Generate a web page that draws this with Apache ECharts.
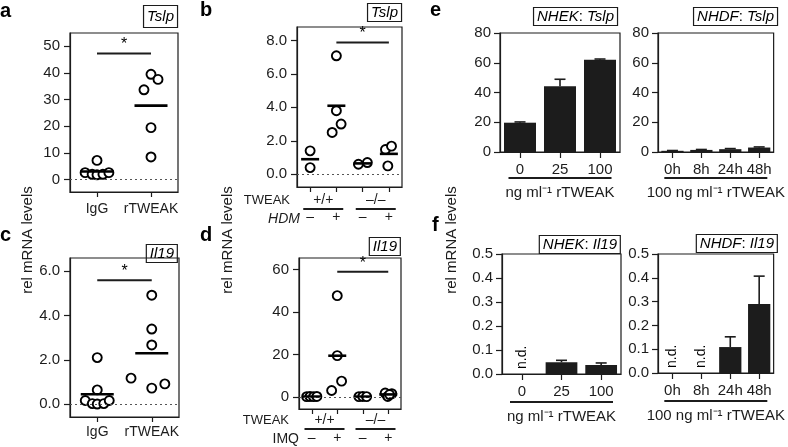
<!DOCTYPE html>
<html>
<head>
<meta charset="utf-8">
<script src="https://cdn.jsdelivr.net/npm/echarts@6/dist/echarts.min.js"></script>
<style>html,body{margin:0;padding:0;background:#fff;}#c{width:788px;height:447px;}</style>
</head>
<body>
<div id="c"></div>
<script>
// ---------- data ----------
// a: Tslp, IgG vs rTWEAK
const aGroups = ['IgG', 'rTWEAK'];
const aTslp = [[7.2, 2.6, 2.0, 1.8, 2.0, 2.6], [39.5, 37.6, 33.7, 19.5, 8.5]];
const aJitter = [[0, -0.22, -0.09, 0, 0.11, 0.22], [0, 0.13, -0.13, 0, 0]];
const aYTicks = [0, 10, 20, 30, 40, 50];
const aSig = [0, 1, 47.3];
// c: Il19, IgG vs rTWEAK
const cGroups = ['IgG', 'rTWEAK'];
const cIl19 = [[2.1, 0.64, 0.16, 0.02, 0.0, 0.02, 0.16], [4.92, 3.39, 2.67, 1.17, 0.72, 0.91]];
const cJitter = [[0, 0, -0.22, -0.09, 0, 0.12, 0.22], [0, 0, 0, -0.38, 0, 0.24]];
const cYTicks = [0, 2, 4, 6];
const cSig = [0, 1, 5.59];
// b: Tslp, TWEAK +/+ and -/-, HDM - / +
const bHdm = ['–', '+', '–', '+'];
const bTweak = ['+/+', '–/–'];
const bTslp = [[1.4, 0.4], [7.08, 3.8, 3.0, 2.5], [0.6, 0.7], [1.48, 1.68, 0.5]];
const bJitter = [[0, 0], [0, 0, 0.18, -0.16], [-0.16, 0.18], [-0.13, 0.1, -0.04]];
const bYTicks = [0, 2, 4, 6, 8];
const bSig = [1, 3, 7.88];
// d: Il19, TWEAK +/+ and -/-, IMQ - / +
const dImq = ['–', '+', '–', '+'];
const dTweak = ['+/+', '–/–'];
const dIl19 = [[0.2, 0.3, 0.2, 0.3], [47.7, 19.5, 7.5, 3.1], [0.2, 0.3, 0.2], [1.9, 1.6, 0.3, 1.2]];
const dJitter = [[-0.2, -0.07, 0.07, 0.2], [0, 0, 0.17, -0.22], [-0.15, 0, 0.15], [-0.12, 0.14, -0.02, 0.05]];
const dYTicks = [0, 20, 40, 60];
const dSig = [1, 3, 58.9];
// e: Tslp in NHEK (dose) and NHDF (time)
const eDoses = ['0', '25', '100'];
const eNhekTslp = [19.7, 44.2, 62.1];
const eNhekErr = [0.5, 4.7, 0.4];
const eTimes = ['0h', '8h', '24h', '48h'];
const eNhdfTslp = [0.8, 1.4, 1.9, 3.0];
const eNhdfErr = [0.2, 0.3, 0.4, 0.4];
// f: Il19 in NHEK (dose) and NHDF (time); null = n.d.
const fDoses = ['0', '25', '100'];
const fNhekIl19 = [null, 0.049, 0.038];
const fNhekErr = [null, 0.008, 0.008];
const fTimes = ['0h', '8h', '24h', '48h'];
const fNhdfIl19 = [null, null, 0.109, 0.29];
const fNhdfErr = [null, null, 0.043, 0.117];
const doseCaption = 'ng ml⁻¹ rTWEAK';
const timeCaption = '100 ng ml⁻¹ rTWEAK';

// ---------- builders ----------
const FONT = '"Liberation Sans", Arial, Helvetica, sans-serif';
const INK = '#1c1c1c';
const grids = [], xAxes = [], yAxes = [], series = [], titles = [], graphics = [];

function range(n) { return Array.from({length: n}, (_, i) => i); }
function mean(a) { return a.reduce((s, v) => s + v, 0) / a.length; }

function addGrid(r) {
  grids.push({left: r[0], top: r[1], width: r[2], height: r[3], show: true,
    borderColor: INK, borderWidth: 1.2, backgroundColor: 'transparent'});
  return grids.length - 1;
}
const axisLine = {show: true, onZero: false, lineStyle: {color: INK, width: 1.2}};
const tickStyle = {color: INK, width: 1.2};
const HIDDEN = 'rgba(0,0,0,0)';

function scatterPanel(o) {
  const g = addGrid(o.rect);
  const n = o.values.length;
  const xi = xAxes.length;
  xAxes.push({gridIndex: g, type: 'value', min: -0.5, max: n - 0.5, position: 'bottom',
    axisLine: axisLine, splitLine: {show: false},
    axisTick: {show: true, customValues: range(n), length: 5, lineStyle: tickStyle},
    axisLabel: {show: true, customValues: range(n), formatter: v => o.cats[Math.round(v)],
      margin: o.labelMargin, fontSize: 14, color: INK, fontFamily: FONT}});
  if (o.groups) {
    xAxes.push({gridIndex: g, type: 'category', data: o.groups, position: 'bottom', boundaryGap: true,
      axisLine: {show: false}, axisTick: {show: false}, splitLine: {show: false},
      axisLabel: {margin: o.groupMargin, interval: 0, formatter: v => '{t|' + v + '}\n{u| }',
        rich: {t: {fontSize: 14, lineHeight: 16, color: INK, fontFamily: FONT},
               u: {width: 40, height: 2, lineHeight: 2, backgroundColor: INK, fontSize: 1}}}});
  }
  const yi = yAxes.length;
  yAxes.push({gridIndex: g, type: 'value', min: o.yMin, max: o.yMax,
    axisLine: axisLine, splitLine: {show: false},
    axisTick: {show: true, customValues: o.ticks, length: 6, lineStyle: tickStyle},
    axisLabel: {show: true, customValues: o.ticks, formatter: v => v.toFixed(o.dec),
      margin: 10, fontSize: 15, color: INK, fontFamily: FONT}});
  const pts = [];
  o.values.forEach((arr, gi) => arr.forEach((v, k) => pts.push([gi + o.jitter[gi][k], v])));
  // significance bar with zero reference line
  series.push({type: 'line', xAxisIndex: xi, yAxisIndex: yi, z: 2, silent: true,
    data: [[o.sig[0], o.sig[2]], [o.sig[1], o.sig[2]]], symbol: 'none',
    lineStyle: {color: INK, width: 2},
    markLine: {silent: true, symbol: 'none', label: {show: false},
      lineStyle: {type: [2, 3], color: '#555', width: 1, opacity: 1}, data: [{yAxis: 0}]}});
  series.push({type: 'scatter', xAxisIndex: xi, yAxisIndex: yi, z: 2, silent: true,
    data: [[(o.sig[0] + o.sig[1]) / 2, o.sig[2]]], symbolSize: 1, itemStyle: {color: HIDDEN, opacity: 1},
    label: {show: true, formatter: '*', position: 'top', distance: 0, fontSize: 16, color: '#000',
      opacity: 1, fontFamily: FONT}});
  series.push({type: 'scatter', xAxisIndex: xi, yAxisIndex: yi, z: 3, silent: true,
    data: pts, symbol: 'circle', symbolSize: 9,
    itemStyle: {color: '#fff', borderColor: '#000', borderWidth: 1.9, opacity: 1}});
  series.push({type: 'scatter', xAxisIndex: xi, yAxisIndex: yi, z: 4, silent: true,
    data: o.values.map((arr, gi) => [gi, mean(arr)]), symbol: 'rect', symbolSize: [o.meanW, 2.6],
    itemStyle: {color: '#000', opacity: 1}});
}

function errBar(params, api) {
  const x = api.value(0), v = api.value(1), e = api.value(2);
  const p0 = api.coord([x, v]);
  const p1 = api.coord([x, v + e]);
  const hw = 5.5;
  const st = {stroke: INK, lineWidth: 1.6};
  return {type: 'group', children: [
    {type: 'line', shape: {x1: p0[0], y1: p0[1], x2: p1[0], y2: p1[1]}, style: st},
    {type: 'line', shape: {x1: p1[0] - hw, y1: p1[1], x2: p1[0] + hw, y2: p1[1]}, style: st}]};
}

const ndLabel = {show: true, formatter: 'n.d.', position: 'top', distance: 5, rotate: 90,
  align: 'left', verticalAlign: 'middle', fontSize: 14, color: '#000', fontFamily: FONT};

function barPanel(o) {
  const g = addGrid(o.rect);
  const xi = xAxes.length;
  xAxes.push({gridIndex: g, type: 'category', data: o.cats, boundaryGap: true, position: 'bottom',
    axisLine: axisLine, splitLine: {show: false},
    axisTick: {show: true, alignWithLabel: true, length: 6, lineStyle: tickStyle},
    axisLabel: {interval: 0, margin: 10, fontSize: 15, color: INK, fontFamily: FONT}});
  xAxes.push({gridIndex: g, type: 'category', data: [o.caption], position: 'bottom', boundaryGap: true,
    axisLine: {show: false}, axisTick: {show: false}, splitLine: {show: false},
    axisLabel: {margin: o.capMargin, interval: 0, formatter: v => '{u| }\n{t|' + v + '}',
      rich: {u: {width: 103, height: 2, lineHeight: 2, backgroundColor: INK, fontSize: 1},
             t: {fontSize: 15, lineHeight: 28, color: INK, fontFamily: FONT}}}});
  const yi = yAxes.length;
  yAxes.push({gridIndex: g, type: 'value', min: 0, max: o.yMax, interval: o.step,
    axisLine: axisLine, splitLine: {show: false},
    axisTick: {show: true, length: 6, lineStyle: tickStyle},
    axisLabel: {formatter: v => v.toFixed(o.dec), margin: 9, fontSize: 15, color: INK, fontFamily: FONT}});
  // not-detected samples are drawn as zero-height bars carrying an "n.d." label
  series.push({type: 'bar', xAxisIndex: xi, yAxisIndex: yi, barWidth: o.barW, silent: true,
    itemStyle: {color: INK},
    data: o.values.map(v => v == null ? {value: 0, label: ndLabel} : v)});
  series.push({type: 'custom', xAxisIndex: xi, yAxisIndex: yi, z: 3, silent: true,
    data: o.values.map((v, i) => v == null ? null : [i, v, o.err[i]]).filter(Boolean),
    renderItem: errBar});
}

function geneBox(parts, right, top, pad) {
  const base = {fontSize: 15, lineHeight: 17, color: '#000', fontFamily: FONT, fontWeight: 'normal'};
  const rich = {i: Object.assign({fontStyle: 'italic'}, base), n: Object.assign({}, base)};
  titles.push({text: parts, right: right, top: top, padding: pad || [2, 4],
    borderColor: INK, borderWidth: 1.2, textStyle: {fontWeight: 'normal', rich: rich}});
}
function letter(t, left, top) {
  titles.push({text: t, left: left, top: top, padding: 0,
    textStyle: {fontSize: 20, fontWeight: 'bold', lineHeight: 20, color: '#000', fontFamily: FONT}});
}
function label(t, x, y, opts) {
  graphics.push({type: 'text', x: x, y: y, silent: true,
    style: {text: t, fill: INK, font: (opts && opts.font) || ('14px ' + FONT), align: 'right', verticalAlign: 'middle'}});
}

// ---------- panels ----------
scatterPanel({rect: [70, 33, 108, 159], values: aTslp, jitter: aJitter, cats: aGroups,
  yMin: -4.65, yMax: 55, ticks: aYTicks, dec: 0, sig: aSig, meanW: 33, labelMargin: 10});
scatterPanel({rect: [70, 258, 109, 159], values: cIl19, jitter: cJitter, cats: cGroups,
  yMin: -0.585, yMax: 6.6, ticks: cYTicks, dec: 1, sig: cSig, meanW: 33, labelMargin: 8});
scatterPanel({rect: [297, 27, 105, 160], values: bTslp, jitter: bJitter, cats: bHdm, groups: bTweak,
  yMin: -0.76, yMax: 8.8, ticks: bYTicks, dec: 1, sig: bSig, meanW: 18, labelMargin: 23, groupMargin: 5});
scatterPanel({rect: [299, 258, 102, 151], values: dIl19, jitter: dJitter, cats: dImq, groups: dTweak,
  yMin: -5.6, yMax: 65.4, ticks: dYTicks, dec: 0, sig: dSig, meanW: 18, labelMargin: 22, groupMargin: 3});

barPanel({rect: [500, 33, 120, 119], cats: eDoses, values: eNhekTslp, err: eNhekErr, caption: doseCaption,
  yMax: 80, step: 20, dec: 0, barW: '80%', capMargin: 25});
barPanel({rect: [658, 33, 120, 119], cats: eTimes, values: eNhdfTslp, err: eNhdfErr, caption: timeCaption,
  yMax: 80, step: 20, dec: 0, barW: '77%', capMargin: 25});
barPanel({rect: [502, 254, 119, 120], cats: fDoses, values: fNhekIl19, err: fNhekErr, caption: doseCaption,
  yMax: 0.5, step: 0.1, dec: 1, barW: '80%', capMargin: 27});
barPanel({rect: [658, 254, 120, 119], cats: fTimes, values: fNhdfIl19, err: fNhdfErr, caption: timeCaption,
  yMax: 0.5, step: 0.1, dec: 1, barW: '77%', capMargin: 27});

// ---------- text ----------
letter('a', 0, 1); letter('b', 200, 0); letter('c', 0, 225); letter('d', 200, 225);
letter('e', 430, 0); letter('f', 432, 215);
geneBox('{i|Tslp}', 610, 4, [4, 4]);
geneBox('{i|Tslp}', 386, 2);
geneBox('{i|Il19}', 610, 243);
geneBox('{i|Il19}', 387, 236);
geneBox('{i|NHEK}{n|: }{i|Tslp}', 170, 6);
geneBox('{i|NHDF}{n|: }{i|Tslp}', 10, 6);
geneBox('{i|NHEK}{n|: }{i|Il19}', 167, 234);
geneBox('{i|NHDF}{n|: }{i|Il19}', 10, 233);

label('TWEAK', 290, 200.5, {font: '13px ' + FONT});
label('HDM', 300, 219, {font: 'italic 14px ' + FONT});
label('TWEAK', 289, 420.7, {font: '13px ' + FONT});
label('IMQ', 299, 439.3);
[28, 228, 452].forEach(x => {
  graphics.push({type: 'text', x: x, y: 240, rotation: Math.PI / 2, silent: true,
    style: {text: 'rel mRNA levels', fill: INK, font: '15px ' + FONT, align: 'center', verticalAlign: 'middle'}});
});

const chart = echarts.init(document.getElementById('c'), null, {renderer: 'canvas'});
chart.setOption({
  animation: false,
  backgroundColor: '#fff',
  title: titles,
  grid: grids,
  xAxis: xAxes,
  yAxis: yAxes,
  series: series,
  graphic: graphics
});
</script>
</body>
</html>
